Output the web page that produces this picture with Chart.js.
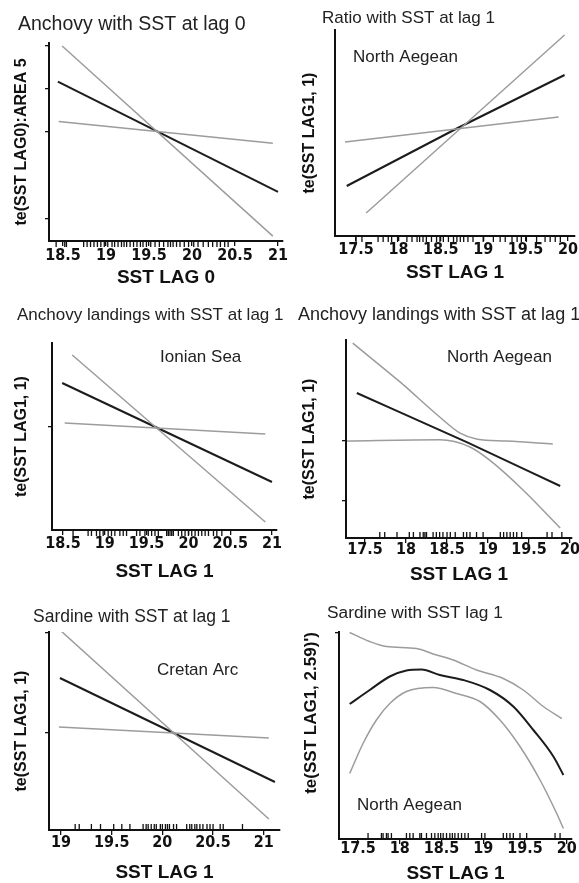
<!DOCTYPE html>
<html>
<head>
<meta charset="utf-8">
<script src="https://cdn.jsdelivr.net/npm/chart.js@4.4.1/dist/chart.umd.min.js"></script>
<style>
  html, body { margin: 0; padding: 0; background: #fff; }
  body { position: relative; width: 579px; height: 883px; overflow: hidden; }
  canvas { position: absolute; }
</style>
</head>
<body>
<canvas id="p1"></canvas>
<canvas id="p2"></canvas>
<canvas id="p3"></canvas>
<canvas id="p4"></canvas>
<canvas id="p5"></canvas>
<canvas id="p6"></canvas>
<script>
// panel 1 - anchovy, lag 0
const p1XTicks = [18.5, 19, 19.5, 20, 20.5, 21];
const p1YTicks = [1, 0.5, 0, -1];
const p1Upper = [[18.49, 0.99], [20.94, -1.20]];
const p1Fit = [[18.44, 0.58], [21.0, -0.69]];
const p1Lower = [[18.45, 0.12], [20.94, -0.13]];
const p1Rug = [18.42, 18.52, 18.54, 18.74, 18.78, 18.82, 18.86, 18.90, 18.94, 18.98, 19.02, 19.07, 19.10,
  19.14, 19.18, 19.21, 19.24, 19.28, 19.32, 19.36, 19.40, 19.43, 19.47, 19.52, 19.57, 19.62, 19.67, 19.72,
  19.75, 19.78, 19.82, 19.86, 19.91, 19.96, 20.02, 20.07, 20.13, 20.19, 20.24, 20.29, 20.33, 20.38, 20.42];

// panel 2 - ratio, north aegean
const p2XTicks = [17.5, 18, 18.5, 19, 19.5, 20];
const p2YTicks = [];
const p2Upper = [[17.62, -1.70], [19.96, 1.86]];
const p2Fit = [[17.39, -1.16], [18.70, 0], [19.96, 1.06]];
const p2Lower = [[17.37, -0.28], [19.89, 0.22]];
const p2Rug = [17.50, 17.57, 17.76, 17.82, 17.88, 17.92, 17.99, 18.10, 18.16, 18.22, 18.25, 18.29, 18.33,
  18.39, 18.45, 18.49, 18.53, 18.59, 18.65, 18.69, 18.73, 18.77, 18.82, 18.88, 19.00, 19.12, 19.20, 19.26,
  19.34, 19.40, 19.45, 19.51, 19.63, 19.73, 19.79, 19.85, 19.91];

// panel 3 - anchovy landings, ionian sea
const p3XTicks = [18.5, 19, 19.5, 20, 20.5, 21];
const p3YTicks = [0];
const p3Upper = [[18.61, 1.44], [20.92, -1.90]];
const p3Fit = [[18.49, 0.88], [21.0, -1.10]];
const p3Lower = [[18.52, 0.08], [20.92, -0.14]];
const p3Rug = [18.62, 18.80, 18.84, 18.90, 18.94, 18.98, 19.04, 19.08, 19.12, 19.18, 19.22, 19.26, 19.38,
  19.42, 19.48, 19.52, 19.56, 19.60, 19.64, 19.74, 19.76, 19.78, 19.80, 19.82, 19.88, 19.92, 19.96, 20.00,
  20.04, 20.08, 20.12, 20.16, 20.20, 20.24, 20.30, 20.34, 20.40];

// panel 4 - anchovy landings, north aegean
const p4XTicks = [17.5, 18, 18.5, 19, 19.5, 20];
const p4YTicks = [0, -1];
const p4Upper = [[17.35, 1.63], [17.93, 0.98], [18.41, 0.40], [18.66, 0.13], [18.87, 0.03], [19.23, 0.0], [19.79, -0.05]];
const p4Fit = [[17.40, 0.80], [18.74, -0.02], [19.88, -0.75]];
const p4Lower = [[17.28, 0.0], [18.41, 0.02], [18.78, -0.10], [19.02, -0.32], [19.43, -0.82], [19.88, -1.45]];
const p4Rug = [17.68, 17.74, 17.89, 18.04, 18.09, 18.17, 18.21, 18.23, 18.25, 18.33, 18.37, 18.41, 18.45,
  18.50, 18.54, 18.60, 18.70, 18.74, 18.78, 18.86, 18.94, 19.15, 19.19, 19.23, 19.27, 19.31, 19.35, 19.41,
  19.72, 19.78, 19.90];

// panel 5 - sardine, cretan arc
const p5XTicks = [19, 19.5, 20, 20.5, 21];
const p5YTicks = [1, 0];
const p5Upper = [[18.99, 1.03], [21.05, -0.86]];
const p5Fit = [[18.99, 0.55], [21.11, -0.49]];
const p5Lower = [[18.98, 0.06], [21.05, -0.05]];
const p5Rug = [19.14, 19.18, 19.30, 19.39, 19.52, 19.60, 19.68, 19.81, 19.84, 19.86, 19.89, 19.92, 19.94,
  19.98, 20.00, 20.03, 20.05, 20.07, 20.11, 20.14, 20.24, 20.27, 20.29, 20.32, 20.34, 20.37, 20.40, 20.44,
  20.47, 20.50, 20.57, 20.60, 20.79];

// panel 6 - sardine, north aegean (smooth)
const p6XTicks = [17.5, 18, 18.5, 19, 19.5, 20];
const p6YTicks = [2];
const p6Upper = [[17.40, 2.01], [17.64, 1.83], [17.84, 1.73], [18.20, 1.69], [18.40, 1.58], [18.64, 1.46],
  [18.92, 1.26], [19.24, 1.09], [19.48, 0.86], [19.72, 0.53], [19.94, 0.29]];
const p6Fit = [[17.40, 0.58], [17.64, 0.86], [17.88, 1.13], [18.08, 1.25], [18.26, 1.27], [18.48, 1.16],
  [18.76, 1.06], [19.08, 0.86], [19.36, 0.53], [19.60, 0.06], [19.84, -0.47], [19.96, -0.84]];
const p6Lower = [[17.40, -0.81], [17.56, -0.21], [17.72, 0.26], [17.88, 0.59], [18.08, 0.83], [18.40, 0.91],
  [18.68, 0.79], [18.96, 0.63], [19.20, 0.26], [19.44, -0.27], [19.68, -0.94], [19.88, -1.61], [19.96, -1.91]];
const p6Rug = [17.62, 17.78, 17.80, 17.84, 17.86, 17.90, 18.08, 18.12, 18.16, 18.24, 18.26, 18.32, 18.38,
  18.42, 18.46, 18.49, 18.52, 18.56, 18.60, 18.63, 18.66, 18.70, 18.74, 18.78, 18.82, 18.98, 19.02, 19.24,
  19.28, 19.32, 19.36, 19.44, 19.52, 19.86, 19.92];

const GRAY = '#9c9c9c';
const BLACK = '#1c1c1c';
const TEXT = "'Liberation Sans', Arial, sans-serif";
const NARROW = "'Liberation Sans Narrow', 'Arial Narrow', 'DejaVu Sans Condensed', 'Liberation Sans', Arial, sans-serif";

function toPts(arr) { return arr.map(p => ({ x: p[0], y: p[1] })); }

function makePanel(id, c) {
  const el = document.getElementById(id);
  el.width = c.box[2]; el.height = c.box[3];
  el.style.left = c.box[0] + 'px'; el.style.top = c.box[1] + 'px';

  const curve = c.curved ? { cubicInterpolationMode: 'monotone' } : {};
  const line = (pts, color, w) => Object.assign({
    data: toPts(pts), borderColor: color, borderWidth: w, pointRadius: 0, fill: false
  }, curve);

  const panelText = {
    id: 'panelText',
    afterDraw(chart) {
      const ctx = chart.ctx;
      ctx.save();
      ctx.textBaseline = 'middle';
      ctx.textAlign = 'left';
      c.texts.forEach(t => {
        ctx.fillStyle = '#222';
        ctx.font = t[3] + 'px ' + TEXT;
        ctx.fillText(t[0], t[1], t[2]);
      });
      ctx.restore();
    }
  };

  const rug = {
    id: 'rug',
    afterDatasetsDraw(chart) {
      const xs = chart.scales.x, y0 = chart.chartArea.bottom;
      const ctx = chart.ctx;
      ctx.save();
      ctx.strokeStyle = '#111';
      ctx.lineWidth = 1.3;
      ctx.beginPath();
      c.rug.forEach(v => {
        const px = xs.getPixelForValue(v);
        ctx.moveTo(px, y0);
        ctx.lineTo(px, y0 + c.rugDir * 6);
      });
      ctx.stroke();
      ctx.restore();
    }
  };

  new Chart(el, {
    type: 'line',
    data: {
      datasets: [
        line(c.upper, GRAY, 1.5),
        line(c.lower, GRAY, 1.5),
        line(c.fit, BLACK, 2)
      ]
    },
    options: {
      responsive: false,
      animation: false,
      devicePixelRatio: 1,
      layout: { padding: { top: c.padTop, right: c.padRight, left: 0, bottom: 0 } },
      plugins: { legend: { display: false }, tooltip: { enabled: false } },
      scales: {
        x: {
          type: 'linear', min: c.xRange[0], max: c.xRange[1],
          afterBuildTicks: s => { s.ticks = c.xTicks.map(v => ({ value: v })); },
          afterFit: s => { s.height = c.xHeight; s.paddingLeft = 0; s.paddingRight = 0; },
          border: { display: true, color: '#111', width: 2 },
          grid: { drawOnChartArea: false, drawTicks: true, tickLength: 5, color: '#111', lineWidth: 1.3 },
          ticks: {
            autoSkip: false, maxRotation: 0, color: '#111', padding: c.tickPad,
            font: { family: NARROW, size: 16, weight: 'bold', lineHeight: 1 },
            callback: v => String(v)
          },
          title: {
            display: true, text: c.xTitle, color: '#111',
            font: { family: TEXT, size: 19, weight: 'bold', lineHeight: 1 },
            padding: { top: 0, bottom: c.xTitlePad }
          }
        },
        y: {
          type: 'linear', min: c.yRange[0], max: c.yRange[1],
          afterBuildTicks: s => { s.ticks = c.yTicks.map(v => ({ value: v })); },
          afterFit: s => { s.width = c.yWidth; s.paddingTop = 0; s.paddingBottom = 0; },
          border: { display: true, color: '#111', width: 2 },
          grid: { drawOnChartArea: false, drawTicks: true, tickLength: 4, color: '#111', lineWidth: 1.3 },
          ticks: { display: false, autoSkip: false },
          title: {
            display: true, text: c.yTitle, color: '#111', align: c.yTitleAlign || 'center',
            font: { family: TEXT, size: c.yTitleSize || 16, weight: 'bold', lineHeight: 1 },
            padding: { top: c.yTitlePad, bottom: 0 }
          }
        }
      }
    },
    plugins: [rug, panelText]
  });
}

makePanel('p1', {
  box: [0, 0, 290, 295], padTop: 43, padRight: 7, yWidth: 49, xHeight: 54,
  xRange: [18.337, 21.058], yRange: [-1.256, 1.025], xTicks: p1XTicks, yTicks: p1YTicks,
  upper: p1Upper, fit: p1Fit, lower: p1Lower, rug: p1Rug, rugDir: 1,
  tickPad: 2, xTitle: 'SST LAG 0', xTitlePad: 7.5, yTitle: 'te(SST LAG0):AREA 5', yTitlePad: 14,
  texts: [['Anchovy with SST at lag 0', 18, 25, 19.5]]
});

makePanel('p2', {
  box: [290, 0, 289, 295], padTop: 30, padRight: 4, yWidth: 45, xHeight: 59,
  xRange: [17.252, 20.083], yRange: [-2.16, 1.96], xTicks: p2XTicks, yTicks: p2YTicks,
  upper: p2Upper, fit: p2Fit, lower: p2Lower, rug: p2Rug, rugDir: 1,
  tickPad: 1, xTitle: 'SST LAG 1', xTitlePad: 12.5, yTitle: 'te(SST LAG1, 1)', yTitlePad: 12,
  texts: [['Ratio with SST at lag 1', 32, 18, 17], ['North Aegean', 63, 57, 17]]
});

makePanel('p3', {
  box: [0, 290, 290, 300], padTop: 53, padRight: 13, yWidth: 52, xHeight: 60,
  xRange: [18.368, 21.06], yRange: [-2.06, 1.68], xTicks: p3XTicks, yTicks: p3YTicks,
  upper: p3Upper, fit: p3Fit, lower: p3Lower, rug: p3Rug, rugDir: 1,
  tickPad: 1, xTitle: 'SST LAG 1', xTitlePad: 9, yTitle: 'te(SST LAG1, 1)', yTitlePad: 14,
  texts: [['Anchovy landings with SST at lag 1', 17, 25, 17], ['Ionian Sea', 160, 67, 17]]
});

makePanel('p4', {
  box: [290, 290, 289, 300], padTop: 50, padRight: 7, yWidth: 56, xHeight: 52,
  xRange: [17.268, 20.024], yRange: [-1.617, 1.683], xTicks: p4XTicks, yTicks: p4YTicks,
  upper: p4Upper, fit: p4Fit, lower: p4Lower, rug: p4Rug, rugDir: -1, curved: true,
  tickPad: -1, xTitle: 'SST LAG 1', xTitlePad: 5.5, yTitle: 'te(SST LAG1, 1)', yTitlePad: 12,
  texts: [['Anchovy landings with SST at lag 1', 8, 25, 18], ['North Aegean', 157, 67, 17]]
});

makePanel('p5', {
  box: [0, 580, 290, 303], padTop: 52, padRight: 10, yWidth: 49, xHeight: 53,
  xRange: [18.882, 21.16], yRange: [-0.97, 1.01], xTicks: p5XTicks, yTicks: p5YTicks,
  upper: p5Upper, fit: p5Fit, lower: p5Lower, rug: p5Rug, rugDir: -1,
  tickPad: -0.5, xTitle: 'SST LAG 1', xTitlePad: 0.5, yTitle: 'te(SST LAG1, 1)', yTitlePad: 14,
  texts: [['Sardine with SST at lag 1', 33, 37, 17.5], ['Cretan Arc', 157, 90, 17]]
});

makePanel('p6', {
  box: [290, 580, 289, 303], padTop: 52, padRight: 7, yWidth: 49, xHeight: 44,
  xRange: [17.272, 20.063], yRange: [-2.12, 2.02], xTicks: p6XTicks, yTicks: p6YTicks,
  upper: p6Upper, fit: p6Fit, lower: p6Lower, rug: p6Rug, rugDir: -1, curved: true,
  tickPad: -3, xTitle: 'SST LAG 1', xTitlePad: 0, yTitle: "te(SST LAG1, 2.59)')", yTitlePad: 12.5,
  yTitleAlign: 'end', yTitleSize: 17,
  texts: [['Sardine with SST lag 1', 37, 33, 17.3], ['North Aegean', 67, 225, 17]]
});
</script>
</body>
</html>
